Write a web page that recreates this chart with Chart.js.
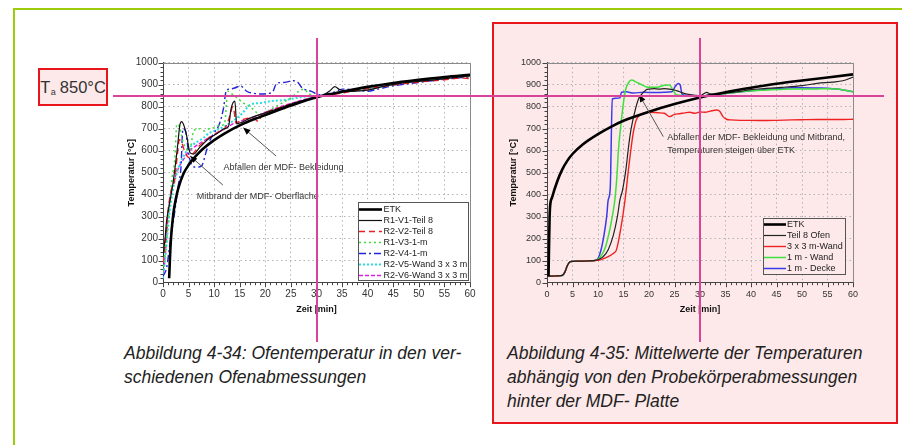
<!DOCTYPE html>
<html><head><meta charset="utf-8">
<script src="https://cdn.jsdelivr.net/npm/chart.js@4.4.1/dist/chart.umd.min.js"></script>
<style>
html,body{margin:0;padding:0;background:#fff;}
body{width:902px;height:445px;position:relative;overflow:hidden;font-family:"Liberation Sans",Arial,sans-serif;}
.abs{position:absolute;}
#gTop{left:13px;top:7.5px;width:889px;height:2px;background:#9ccc0c;}
#gLeft{left:12.5px;top:7.5px;width:2px;height:438px;background:#9ccc0c;}
#redBox{left:492px;top:22px;width:402px;height:398px;border:2px solid #e8161c;background:#fde9e9;}
#teBox{left:38px;top:68px;width:66px;height:34px;border:2px solid #e8161c;background:#fde9e9;font-size:16.5px;color:#333;display:flex;align-items:center;justify-content:center;}
#teBox sub{font-size:9px;vertical-align:-2px;margin-right:4px;margin-left:0.5px;}
.cap{position:absolute;font-style:italic;font-size:17.5px;line-height:24px;color:#222;white-space:nowrap;}
canvas{position:absolute;}
.mag{position:absolute;background:#d9449a;}
</style></head>
<body>
<div id="gTop" class="abs"></div>
<div id="gLeft" class="abs"></div>
<div id="redBox" class="abs"></div>
<div id="teBox" class="abs"><span>T<sub>a</sub>850°C</span></div>
<canvas id="c1" width="390" height="270" style="left:100px;top:50px;"></canvas>
<canvas id="c2" width="390" height="270" style="left:484px;top:50px;"></canvas>
<div class="cap" style="left:124px;top:341px;">Abbildung 4-34: Ofentemperatur in den ver-<br>schiedenen Ofenabmessungen</div>
<div class="cap" style="left:507px;top:341px;">Abbildung 4-35: Mittelwerte der Temperaturen<br>abhängig von den Probekörperabmessungen<br>hinter der MDF- Platte</div>
<div id="hLine" class="mag" style="left:113px;width:771px;height:2px;top:95px;"></div>
<div id="v1" class="mag" style="top:37.5px;height:304px;width:2px;left:315.5px;"></div>
<div id="v2" class="mag" style="top:37.5px;height:304px;width:2px;left:699px;"></div>
<script>
// ---------- tick labels ----------
const xTicks = [0,5,10,15,20,25,30,35,40,45,50,55,60];
const yTicks = [0,100,200,300,400,500,600,700,800,900,1000];

// ---------- left chart: Ofentemperatur ----------
const leftLabels = ["ETK","R1-V1-Teil 8","R2-V2-Teil 8","R1-V3-1-m","R2-V4-1-m","R2-V5-Wand 3 x 3 m","R2-V6-Wand 3 x 3 m"];
const etkL_t = [1.2,1.5,2,2.5,3,4,5,6,7,8,10,12,15,18,20,25,30,35,40,45,50,55,60];
const etkL_v = [20,180,310,380,430,495,535,565,590,612,648,678,715,745,762,805,843,868,890,908,922,935,945];
const r1v1_t = [0,0.4,0.7,1.2,2,2.8,3.3,3.65,4,4.6,5.3,6,7,8,9,10,11,12,12.8,13.3,14.05,14.4,15.5,17,20,23,26,28,30,31.5,32.5,33.6,34.5,35.5,37,40,43,46,50,53,56,58,60];
const r1v1_v = [120,200,280,350,460,610,717,732,720,671,590,585,610,635,655,670,685,700,710,790,825,722,730,748,772,795,820,832,845,855,870,891,878,872,870,875,892,905,915,922,930,935,940];
const r2v2_t = [0,0.5,1,1.6,2.3,2.8,3.2,3.6,4.2,5,6,7,8,9,10,11,12,12.8,13.7,14.3,15,16,17,18,18.7,19.3,20,22,25,28,30,33,35,38,40,45,50,55,58,60];
const r2v2_v = [90,200,330,420,470,580,650,640,600,570,590,620,640,660,672,688,698,740,800,725,735,745,748,742,732,765,772,790,812,830,840,855,862,875,882,898,912,922,930,928];
const r1v3_t = [0,0.6,1.2,1.8,2.3,2.7,3.2,3.8,4.5,5.2,6,7,8,9,10,11,12,12.7,13.7,14.5,15.5,16.4,17.5,18.5,19.5,20.5,22,23.5,25,26.5,27.5,28.5,30,32,35,40,45,50,55,60];
const r1v3_v = [50,180,330,480,560,720,710,650,610,600,690,700,690,700,705,715,720,870,853,840,820,808,790,770,760,780,800,820,840,870,880,860,848,855,865,880,900,915,928,938];
const r2v4_t = [0,0.7,1.4,2.3,3,3.5,3.9,4.4,5,5.5,6.5,7.5,8.5,9.2,10,11,11.8,12.4,13,14,15.2,15.8,16.5,17.5,19,20.5,21.5,22.2,23.5,24.7,25.5,26.3,27.2,28,29,30.5,32,33.7,35,37,40,42,45,50,55,60];
const r2v4_v = [30,67,186,323,444,520,700,690,590,540,525,530,600,649,680,720,790,876,880,885,895,882,868,862,858,860,870,906,910,915,918,912,885,876,870,855,858,868,880,878,870,880,895,910,925,935];
const r2v5_t = [0,0.6,1.2,2,3,4,5,6,7,8,9,10,12,14,15.5,17,19,21,23.5,25,27.4,30,32,35,38,40,45,50,55,58,60];
const r2v5_v = [20,150,300,430,520,575,610,630,645,660,680,690,710,740,770,808,817,825,830,835,845,848,855,865,875,882,900,918,930,942,945];
const r2v6_t = [0,0.5,1,1.5,2,3,4,5,6,8,10,12,14,16,18,20,22,25,28,30,33,35,40,45,50,55,58,60];
const r2v6_v = [20,140,300,400,450,520,560,595,615,645,672,700,725,740,755,775,792,815,835,845,858,865,882,902,915,928,935,948];

// ---------- right chart: hinter der MDF-Platte ----------
const rightLabels = ["ETK","Teil 8 Ofen","3 x 3 m-Wand","1 m - Wand","1 m - Decke"];
const etkR_t = [0.3,0.5,0.6,1,2,3,4,5,7,10,13,15,20,25,30,35,40,45,50,55,60];
const etkR_v = [30,290,345,388,460,515,555,585,628,675,714,736,777,812,842,866,886,904,919,933,947];
const teil8_t = [0,1,2,3,3.5,4,4.5,5,6,7,8,9,9.5,10.3,11,12,13,13.8,14.3,14.8,15.5,16,16.5,17.3,18,18.5,19.4,20,21,22,23,24,25,26,27,28,29,30,31.3,32,33,35,38,40,43,46,50,53,56,58,59.4,60];
const teil8_v = [30,30,31,33,48,78,95,97,98,98,99,100,102,108,118,150,215,300,376,420,520,620,700,785,838,855,876,880,882,880,882,880,876,868,860,855,852,850,865,858,856,862,870,878,883,888,896,906,912,918,929,935];
const wand33_t = [0,1,2,3,3.5,4,4.5,5,6,7,8,9,9.5,10.3,11,12,13,13.6,14.5,15.3,16,16.9,17.5,18.2,19,20,22,23,24.1,25,26,27,28,29,30,31,32,33.3,33.9,34.5,35.2,36,38,40,43,45,48,50,53,55,58,60];
const wand33_v = [30,30,31,33,48,78,95,97,98,98,99,100,101,103,108,118,133,148,250,376,520,680,740,762,772,775,772,770,755,765,768,772,775,770,776,775,780,785,778,755,743,740,738,738,737,738,740,741,742,742,742,743];
const wand1_t = [0,1,2,3,3.5,4,4.5,5,6,7,8,9,9.5,10,10.7,11.5,12.3,12.8,13.3,13.7,14,14.5,15,15.4,16,16.6,17.5,18.6,19.5,20.5,22,23,24,24.6,25.2,26,28,30,32,35,38,40,43,45,48,50,53,55,57,59,60];
const wand1_v = [30,30,31,33,48,78,95,97,98,98,99,100,102,106,125,165,240,300,376,480,600,720,820,876,910,921,912,899,890,888,890,898,899,880,858,852,850,848,852,860,868,872,876,878,880,880,881,882,880,872,867];
const decke_t = [0,1,2,3,3.5,4,4.5,5,6,7,8,9,9.5,10,10.6,11.2,11.7,12,12.4,12.8,13.5,14.3,14.6,15.5,17,19,21,23,24.5,25.1,25.7,26.1,26.5,27.5,29,30,32,35,38,40,43,45,48,50,53,55,57,59,60];
const decke_v = [30,30,31,33,48,78,95,97,98,98,99,100,102,110,150,220,300,376,430,835,838,840,866,868,862,866,864,866,868,890,906,900,856,852,850,848,852,860,868,872,878,882,886,886,885,884,880,872,868];

const pts = (t, v) => t.map((x, i) => ({x: x, y: v[i]}));
Chart.defaults.font.family = "'Liberation Sans', Arial, sans-serif";

const decor = {
  id: 'decor',
  beforeDatasetsDraw(chart) {
    const {ctx, chartArea: a, scales: {x, y}} = chart;
    ctx.save();
    ctx.strokeStyle = '#8a8a8a'; ctx.lineWidth = 1;
    ctx.beginPath();
    ctx.moveTo(a.left, Math.round(a.top) + 0.5);
    ctx.lineTo(Math.round(a.right) + 0.5, Math.round(a.top) + 0.5);
    ctx.lineTo(Math.round(a.right) + 0.5, a.bottom);
    ctx.stroke();
    ctx.strokeStyle = '#444';
    ctx.beginPath();
    for (let v = 0; v <= 1000; v += 20) {
      const py = Math.round(y.getPixelForValue(v)) + 0.5;
      const len = v % 100 === 0 ? 4.5 : 2.5;
      ctx.moveTo(a.left - len, py); ctx.lineTo(a.left, py);
    }
    for (let t = 0; t <= 60; t += 1) {
      const px = Math.round(x.getPixelForValue(t)) + 0.5;
      const len = t % 5 === 0 ? 4.5 : 2.5;
      ctx.moveTo(px, a.bottom); ctx.lineTo(px, a.bottom + len);
    }
    ctx.stroke();
    ctx.restore();
  },
  afterDatasetsDraw(chart, args, o) {
    const {ctx, chartArea: a, scales: {x, y}} = chart;
    ctx.save();
    (o.notes || []).forEach(n => {
      const x1 = x.getPixelForValue(n.from[0]), y1 = y.getPixelForValue(n.from[1]);
      const x2 = x.getPixelForValue(n.to[0]), y2 = y.getPixelForValue(n.to[1]);
      ctx.strokeStyle = '#555'; ctx.lineWidth = 1;
      ctx.beginPath(); ctx.moveTo(x1, y1); ctx.lineTo(x2, y2); ctx.stroke();
      const ang = Math.atan2(y2 - y1, x2 - x1);
      ctx.fillStyle = '#000';
      ctx.beginPath();
      ctx.moveTo(x2, y2);
      ctx.lineTo(x2 - 7 * Math.cos(ang) + 3 * Math.sin(ang), y2 - 7 * Math.sin(ang) - 3 * Math.cos(ang));
      ctx.lineTo(x2 - 7 * Math.cos(ang) - 3 * Math.sin(ang), y2 - 7 * Math.sin(ang) + 3 * Math.cos(ang));
      ctx.closePath(); ctx.fill();
      ctx.fillStyle = '#333'; ctx.font = "9px 'Liberation Sans', Arial, sans-serif";
      ctx.textBaseline = 'middle'; ctx.textAlign = 'left';
      n.lines.forEach((ln, i) => {
        ctx.fillText(ln, x.getPixelForValue(n.at[0]), y.getPixelForValue(n.at[1]) + i * n.lh);
      });
    });
    const lg = o.legend;
    const bx = a.right - lg.right - lg.width, by = a.bottom - lg.bottom - lg.height;
    ctx.fillStyle = lg.fill; ctx.fillRect(bx, by, lg.width, lg.height);
    ctx.strokeStyle = '#555'; ctx.lineWidth = 1;
    ctx.strokeRect(Math.round(bx) + 0.5, Math.round(by) + 0.5, Math.round(lg.width), Math.round(lg.height));
    chart.data.datasets.forEach((ds, i) => {
      const cy = Math.round(by + lg.padTop + i * lg.rowH) + 0.5;
      ctx.save();
      ctx.strokeStyle = ds.borderColor; ctx.lineWidth = ds.borderWidth;
      ctx.setLineDash(ds.borderDash || []);
      ctx.beginPath(); ctx.moveTo(bx + 1, cy); ctx.lineTo(bx + 1 + lg.sampleW, cy); ctx.stroke();
      ctx.restore();
      ctx.fillStyle = '#222'; ctx.font = lg.font; ctx.textBaseline = 'middle'; ctx.textAlign = 'left';
      ctx.fillText(ds.label, bx + lg.textX, cy);
    });
    ctx.restore();
  }
};

function makeChart(id, datasets, o) {
  const gridColor = c => (c.tick && (c.tick.value === 0)) ? 'rgba(0,0,0,0)' : '#b3b3b3';
  return new Chart(document.getElementById(id), {
    type: 'line',
    data: {datasets: datasets},
    plugins: [decor],
    options: {
      responsive: false, animation: false, devicePixelRatio: 1,
      layout: {padding: {top: 12.7, right: o.padRight, left: 0, bottom: 0}},
      elements: {point: {radius: 0}, line: {cubicInterpolationMode: 'monotone', fill: false}},
      plugins: {legend: {display: false}, tooltip: {enabled: false}, decor: o.decor},
      scales: {
        x: {
          type: 'linear', min: 0, max: 60,
          afterBuildTicks: s => { s.ticks = xTicks.map(v => ({value: v})); },
          afterFit: s => { s.height = 37.3; },
          grid: {color: gridColor, lineWidth: 1, drawTicks: false},
          border: {display: true, color: '#444', width: 1, dash: [1.5, 3]},
          ticks: {color: '#333', font: {size: o.tickSize}, padding: 6, maxRotation: 0, autoSkip: false, callback: v => String(v)},
          title: {display: true, text: 'Zeit [min]', color: '#111', font: {size: 9, weight: 'bold'}, padding: {top: 0, bottom: 4.6}}
        },
        y: {
          type: 'linear', min: 0, max: 1000,
          afterBuildTicks: s => { s.ticks = yTicks.map(v => ({value: v})); },
          afterFit: s => { s.width = 63; },
          grid: {color: gridColor, lineWidth: 1, drawTicks: false},
          border: {display: true, color: '#444', width: 1, dash: [1.5, 3]},
          ticks: {color: '#333', font: {size: o.tickSize}, padding: o.yPad, callback: v => String(v)},
          title: {display: true, text: 'Temperatur [°C]', color: '#111', font: {size: 9, weight: 'bold'}, padding: {top: o.titlePad, bottom: 0}}
        }
      }
    }
  });
}

const leftSets = [
  {label: leftLabels[0], data: pts(etkL_t, etkL_v), borderColor: '#000', borderWidth: 2.6},
  {label: leftLabels[1], data: pts(r1v1_t, r1v1_v), borderColor: '#111', borderWidth: 1.2},
  {label: leftLabels[2], data: pts(r2v2_t, r2v2_v), borderColor: '#ee1c24', borderWidth: 1.4, borderDash: [6, 4]},
  {label: leftLabels[3], data: pts(r1v3_t, r1v3_v), borderColor: '#3ddc3d', borderWidth: 1.5, borderDash: [2, 3]},
  {label: leftLabels[4], data: pts(r2v4_t, r2v4_v), borderColor: '#2424d8', borderWidth: 1.4, borderDash: [7, 3, 2, 3]},
  {label: leftLabels[5], data: pts(r2v5_t, r2v5_v), borderColor: '#28e0e0', borderWidth: 2, borderDash: [2, 2]},
  {label: leftLabels[6], data: pts(r2v6_t, r2v6_v), borderColor: '#e020e0', borderWidth: 1.4, borderDash: [4, 2]}
];
const rightSets = [
  {label: rightLabels[0], data: pts(etkR_t, etkR_v), borderColor: '#000', borderWidth: 2.6},
  {label: rightLabels[1], data: pts(teil8_t, teil8_v), borderColor: '#222', borderWidth: 1.2},
  {label: rightLabels[2], data: pts(wand33_t, wand33_v), borderColor: '#ee2222', borderWidth: 1.4},
  {label: rightLabels[3], data: pts(wand1_t, wand1_v), borderColor: '#3ee03e', borderWidth: 1.5},
  {label: rightLabels[4], data: pts(decke_t, decke_v), borderColor: '#3a3ae8', borderWidth: 1.5}
];

const c1 = makeChart('c1', leftSets, {
  padRight: 20, tickSize: 10, yPad: 5, titlePad: 26.3,
  decor: {
    legend: {right: 2, bottom: 2.7, width: 110, height: 78, rowH: 11, padTop: 6.5, sampleW: 23, textX: 25.5, fill: '#fff', font: "9px 'Liberation Sans', Arial, sans-serif"},
    notes: [
      {lines: ['Abfallen der MDF- Bekleidung'], at: [11.8, 524], lh: 0, from: [22.1, 576], to: [15.7, 704]},
      {lines: ['Mitbrand der MDF- Oberfläche'], at: [6.6, 391], lh: 0, from: [11.7, 444], to: [5.3, 576]}
    ]
  }
});
const c2 = makeChart('c2', rightSets, {
  padRight: 21, tickSize: 9, yPad: 6, titlePad: 24.6,
  decor: {
    legend: {right: 8, bottom: 9.2, width: 82, height: 55.5, rowH: 11, padTop: 5.5, sampleW: 22, textX: 24, fill: '#fde9e9', font: "9px 'Liberation Sans', Arial, sans-serif"},
    notes: [
      {lines: ['Abfallen der MDF- Bekleidung und Mitbrand,', 'Temperaturen steigen über ETK'], at: [23.6, 659], lh: 12.5, from: [22.8, 664], to: [18.1, 853]}
    ]
  }
});

// crosshair at 850 °C and 30 min, positioned from the chart scales
const y850 = 50 + c1.scales.y.getPixelForValue(850);
document.getElementById('hLine').style.top = (y850 - 1) + 'px';
document.getElementById('v1').style.left = (100 + c1.scales.x.getPixelForValue(30) - 1) + 'px';
document.getElementById('v2').style.left = (484 + c2.scales.x.getPixelForValue(30) - 1) + 'px';
</script>
</body></html>
